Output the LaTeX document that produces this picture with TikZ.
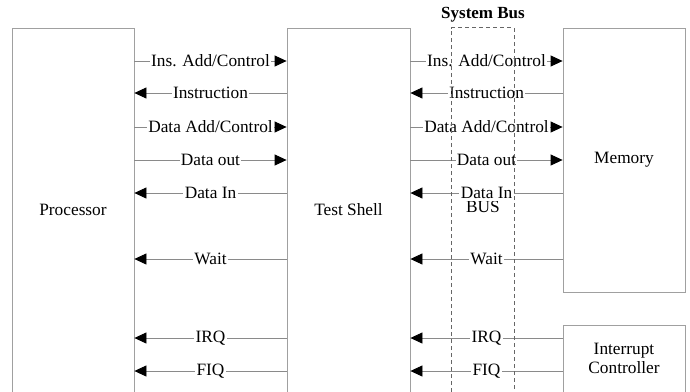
\documentclass[tikz,border=0pt]{standalone}
\usepackage{fontspec}
\setmainfont{Liberation Serif}
\usetikzlibrary{arrows.meta}
\definecolor{boxgray}{HTML}{A0A0A0}
\definecolor{linegray}{HTML}{8A8A8A}
\definecolor{dashgray}{HTML}{666666}
\begin{document}
\begin{tikzpicture}[x=1pt,y=-1pt,
  txt/.style={font=\fontsize{17.3}{19}\selectfont},
  box/.style={draw=boxgray, line width=0.8pt, inner sep=0pt, align=center, txt},
  sig/.style={draw=linegray, line width=0.8pt},
  tipR/.style={-{Triangle[length=12pt,width=11pt,black]}},
  tipL/.style={{Triangle[length=12pt,width=11pt,black]}-},
  lab/.style={fill=white, inner xsep=1.4pt, inner ysep=2.2pt, txt, midway},
  busline/.style={draw=dashgray, line width=0.7pt, dash pattern=on 4pt off 3pt}
]
\useasboundingbox (0,0) rectangle (690,391);
\clip (0,0) rectangle (690,391);
\node[box, minimum width=122pt, minimum height=364pt] (proc) at (73,210) {Processor};
\node[box, minimum width=123pt, minimum height=364pt] (ts) at (348.5,210) {Test Shell};
\node[box, minimum width=122pt, minimum height=264pt] (mem) at (624,160) {Memory};
\node[box, minimum width=122pt, minimum height=67pt] (ic) at (624,358.5) {Interrupt\\Controller};
\node[inner sep=0pt, minimum width=62pt, minimum height=364pt] (bus) at (483,210) {};
\node[txt] (buslabel) at (483,206.5) {BUS};
\node[font=\fontsize{17}{19}\selectfont\bfseries] (bustitle) at (483,15) {System Bus};
\foreach \y/\t/\d in {61/{Ins. Add/Control}/tipR, 93/{Instruction}/tipL, 127/{Data Add/Control}/tipR, 160/{Data out}/tipR, 193/{Data In}/tipL, 259/{Wait}/tipL}{
  \draw[sig,\d] (proc.east |- 0,\y) -- node[lab]{\t} (ts.west |- 0,\y);
  \draw[sig,\d] (ts.east |- 0,\y) -- node[lab]{\t} (mem.west |- 0,\y);
}
\foreach \y/\t in {338/IRQ, 371/FIQ}{
  \draw[sig,tipL] (proc.east |- 0,\y) -- node[lab]{\t} (ts.west |- 0,\y);
  \draw[sig,tipL] (ts.east |- 0,\y) -- node[lab]{\t} (ic.west |- 0,\y);
}
\draw[busline] (bus.south west) |- (bus.north east) -- (bus.south east);
\end{tikzpicture}
\end{document}
